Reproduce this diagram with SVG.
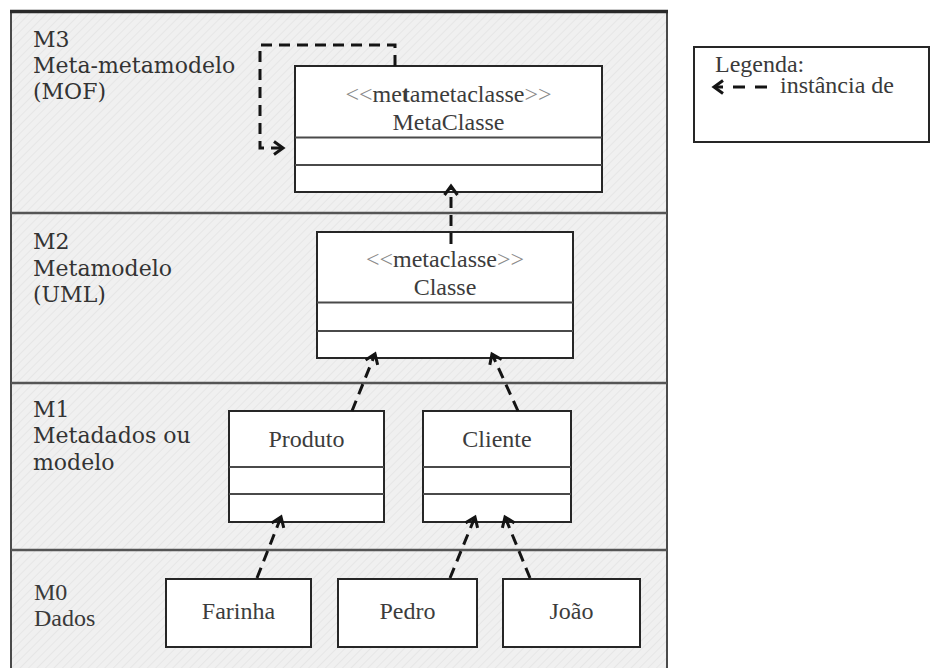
<svg xmlns="http://www.w3.org/2000/svg" width="932" height="668" viewBox="0 0 932 668">
  <defs>
    <!-- faint diagonal hatch for the layer background -->
    <pattern id="hatch" width="6" height="6" patternUnits="userSpaceOnUse" patternTransform="rotate(45)">
      <rect width="6" height="6" fill="#f0f0f0"/>
      <line x1="0" y1="0" x2="0" y2="6" stroke="#e0e0e0" stroke-width="1.2"/>
    </pattern>
    <!-- open chevron arrowhead for "instance of" links -->
    <marker id="arr" markerWidth="16" markerHeight="18" refX="12" refY="8" orient="auto" markerUnits="userSpaceOnUse">
      <path d="M3,1.5 L12,8 L3,14.5" fill="none" stroke="#141414" stroke-width="3" stroke-linejoin="miter"/>
    </marker>
    <style>
      .layer-label { font-family: "DejaVu Serif", "Liberation Serif", serif; font-size: 22px; fill: #333; }
      .plain-label { font-family: "Liberation Serif", "Times New Roman", serif; font-size: 24px; fill: #3a3a3a; }
      .box-text { font-family: "Liberation Serif", "Times New Roman", serif; font-size: 24px; fill: #3c3c3c; text-anchor: middle; }
      .stereo { fill: #8a8a8a; }
      .box { fill: #fff; stroke: #262626; stroke-width: 2; }
      .div { stroke: #4a4a4a; stroke-width: 2; }
      .sep { stroke: #555; stroke-width: 2.5; }
      .link { fill: none; stroke: #141414; stroke-width: 3; stroke-dasharray: 11 7; marker-end: url(#arr); }
    </style>
  </defs>

  <!-- white page -->
  <rect x="0" y="0" width="932" height="668" fill="#fff"/>

  <!-- metamodel layers panel -->
  <g id="layers">
    <rect x="11" y="11" width="656" height="670" fill="url(#hatch)" stroke="#4a4a4a" stroke-width="2"/>
    <line x1="10" y1="11.5" x2="668" y2="11.5" stroke="#2a2a2a" stroke-width="3.5"/>
    <line class="sep" x1="11" y1="213" x2="667" y2="213"/>
    <line class="sep" x1="11" y1="383" x2="667" y2="383"/>
    <line class="sep" x1="11" y1="550" x2="667" y2="550"/>

    <text class="layer-label" x="33" y="47">M3</text>
    <text class="layer-label" x="33" y="73">Meta-metamodelo</text>
    <text class="layer-label" x="33" y="99">(MOF)</text>

    <text class="layer-label" x="33" y="249">M2</text>
    <text class="layer-label" x="33" y="276">Metamodelo</text>
    <text class="layer-label" x="33" y="302">(UML)</text>

    <text class="layer-label" x="33" y="417">M1</text>
    <text class="layer-label" x="33" y="443">Metadados ou</text>
    <text class="layer-label" x="33" y="470">modelo</text>

    <text class="plain-label" x="34" y="600">M0</text>
    <text class="plain-label" x="34" y="626">Dados</text>
  </g>

  <!-- M3 -->
  <g id="metaclasse">
    <rect class="box" x="295" y="66" width="307" height="126"/>
    <line class="div" x1="295" y1="137.5" x2="602" y2="137.5"/>
    <line class="div" x1="295" y1="165" x2="602" y2="165"/>
    <text class="box-text" x="448.5" y="102"><tspan class="stereo">&lt;&lt;</tspan>me<tspan font-weight="bold">t</tspan>ametaclasse<tspan class="stereo">&gt;&gt;</tspan></text>
    <text class="box-text" x="448.5" y="130">MetaClasse</text>
  </g>

  <!-- M2 -->
  <g id="classe">
    <rect class="box" x="317" y="232" width="256" height="126"/>
    <line class="div" x1="317" y1="302.5" x2="573" y2="302.5"/>
    <line class="div" x1="317" y1="331" x2="573" y2="331"/>
    <text class="box-text" x="445" y="267"><tspan class="stereo">&lt;&lt;</tspan>metaclasse<tspan class="stereo">&gt;&gt;</tspan></text>
    <text class="box-text" x="445" y="295">Classe</text>
  </g>

  <!-- M1 -->
  <g id="produto">
    <rect class="box" x="229" y="411" width="155" height="111"/>
    <line class="div" x1="229" y1="467" x2="384" y2="467"/>
    <line class="div" x1="229" y1="494" x2="384" y2="494"/>
    <text class="box-text" x="306.5" y="447">Produto</text>
  </g>
  <g id="cliente">
    <rect class="box" x="423" y="411" width="148" height="111"/>
    <line class="div" x1="423" y1="467" x2="571" y2="467"/>
    <line class="div" x1="423" y1="494" x2="571" y2="494"/>
    <text class="box-text" x="497" y="447">Cliente</text>
  </g>

  <!-- M0 -->
  <g id="farinha">
    <rect class="box" x="166" y="579" width="145" height="68"/>
    <text class="box-text" x="238.5" y="619">Farinha</text>
  </g>
  <g id="pedro">
    <rect class="box" x="338" y="579" width="139" height="68"/>
    <text class="box-text" x="407.5" y="619">Pedro</text>
  </g>
  <g id="joao">
    <rect class="box" x="503" y="579" width="137" height="68"/>
    <text class="box-text" x="571.5" y="619">João</text>
  </g>

  <!-- legend -->
  <g id="legenda">
    <rect x="694" y="47" width="235" height="95" fill="#fff" stroke="#262626" stroke-width="2"/>
    <text class="plain-label" x="715" y="72">Legenda:</text>
    <path d="M767,87 H714" fill="none" stroke="#141414" stroke-width="3" stroke-dasharray="12 10" marker-end="url(#arr)"/>
    <text class="plain-label" x="780" y="93">instância de</text>
  </g>

  <!-- instance-of connectors -->
  <g id="connectors">
    <path class="link" d="M395,66 V45 H260 V148 H283"/>
    <path class="link" d="M451,244 V186"/>
    <path class="link" d="M352,411 L375,354"/>
    <path class="link" d="M518,411 L492,354"/>
    <path class="link" d="M257,578 L281,517"/>
    <path class="link" d="M450,578 L475,517"/>
    <path class="link" d="M530,578 L505,517"/>
  </g>
</svg>
